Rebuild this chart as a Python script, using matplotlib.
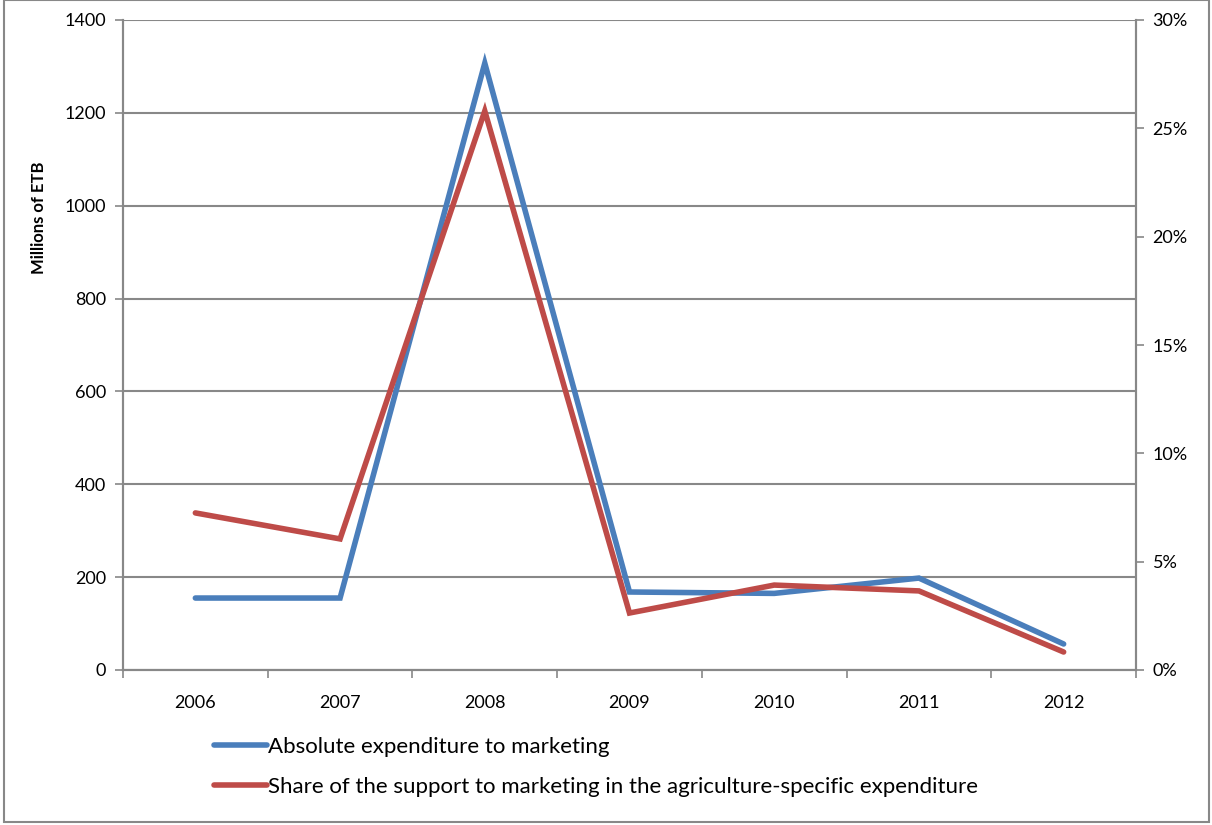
import numpy as np
import matplotlib.pyplot as plt
from matplotlib.patches import Rectangle
from matplotlib.ticker import PercentFormatter

plt.rcParams['font.family'] = ['Lato', 'DejaVu Sans']

years = ['2006', '2007', '2008', '2009', '2010', '2011', '2012']
absolute = [155, 155, 1307, 168, 165, 198, 56]           # millions of ETB
share = [7.25, 6.05, 25.8, 2.63, 3.92, 3.65, 0.83]        # percent

blue = '#4a7ebb'
red = '#be4b48'
grey = '#888888'

fig = plt.figure(figsize=(12.12, 8.25), dpi=100)
ax = fig.add_axes([123 / 1212, 1 - 670 / 825, (1136 - 123) / 1212, (670 - 20) / 825])
ax2 = ax.twinx()

x = np.arange(len(years))
ax.plot(x, absolute, color=blue, lw=4, solid_capstyle='round', solid_joinstyle='miter',
        label='Absolute expenditure to marketing', zorder=3)
ax2.plot(x, share, color=red, lw=4, solid_capstyle='round', solid_joinstyle='miter',
         label='Share of the support to marketing in the agriculture-specific expenditure', zorder=3)

ax.set_xlim(-0.5, len(years) - 0.5)
ax.set_ylim(0, 1400)
ax.set_yticks(range(0, 1401, 200))
ax2.set_ylim(0, 30)
ax2.set_yticks(range(0, 31, 5))
ax2.yaxis.set_major_formatter(PercentFormatter(decimals=0))

ax.set_xticks(x)
ax.set_xticklabels(years)
ax.set_xticks(np.arange(-0.5, len(years), 1), minor=True)
ax.tick_params(axis='x', which='major', length=0, pad=18, labelsize=13)
ax.tick_params(axis='x', which='minor', length=6, color=grey, width=1.2, direction='out')
ax.tick_params(axis='y', length=6, color=grey, width=1.2, labelsize=13, pad=6)
ax2.tick_params(axis='y', length=6, color=grey, width=1.2, labelsize=13, pad=6)

ax.grid(axis='y', color=grey, lw=1.5)
ax.set_axisbelow(True)
for a in (ax, ax2):
    a.spines['top'].set_visible(False)
    for s in ('left', 'right', 'bottom'):
        a.spines[s].set_color(grey)
        a.spines[s].set_linewidth(1.5)
ax.patch.set_visible(False)

ax.set_ylabel('Millions of ETB', fontsize=12, fontweight='bold')
ax.yaxis.set_label_coords(-0.075, 0.695)

h1, l1 = ax.get_legend_handles_labels()
h2, l2 = ax2.get_legend_handles_labels()
fig.legend(h1 + h2, l1 + l2, loc='upper left', bbox_to_anchor=(205 / 1212, 1 - 728 / 825),
           frameon=False, fontsize=16, handlelength=2.4, handletextpad=0.05,
           labelspacing=0.9, borderaxespad=0)

fig.patches.append(Rectangle((4 / 1212, 3 / 825), 1205 / 1212, 822 / 825, transform=fig.transFigure,
                             fill=False, edgecolor=grey, lw=1.5))

fig.savefig('out.png', dpi=100)
